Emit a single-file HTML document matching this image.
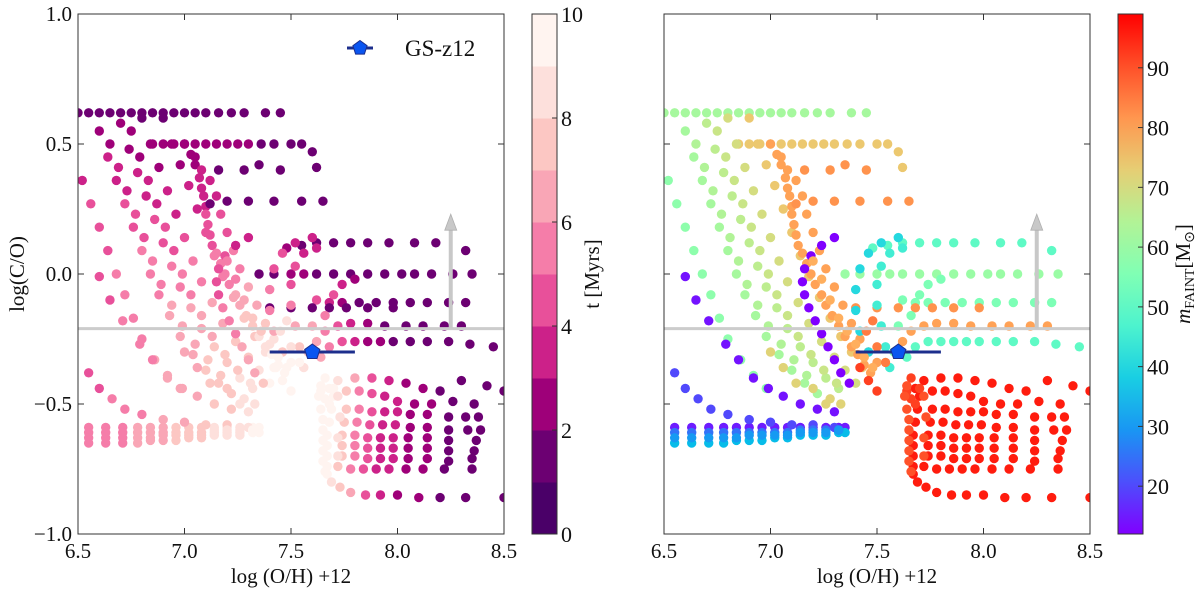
<!DOCTYPE html>
<html><head><meta charset="utf-8">
<style>
html,body{margin:0;padding:0;background:#fff;}
svg{display:block;font-family:"Liberation Serif",serif;}
</style></head>
<body>
<svg id="chart" width="1200" height="589" viewBox="0 0 1200 589" xmlns="http://www.w3.org/2000/svg">
<g id="left"></g>
<g id="right"></g>
</svg>
<script>
// ---- data ----
const xTicks = [6.5, 7.0, 7.5, 8.0, 8.5];
const xTickLabels = ["6.5", "7.0", "7.5", "8.0", "8.5"];
const yTicks = [1.0, 0.5, 0.0, -0.5, -1.0];
const yTickLabels = ["1.0", "0.5", "0.0", "\u22120.5", "\u22121.0"];
const tTicks = [0, 2, 4, 6, 8, 10];
const mTicks = [20, 30, 40, 50, 60, 70, 80, 90];
const tBandColors = ["#4a0068","#6c0072","#9e0079","#cc2189","#e8509a","#f57da9","#f9a6b6","#fcc7c3","#fde0dc","#fff4f0"];
const obsX = [7.6];
const obsY = [-0.3];
const obsXErr = [0.2];
const cutY = [-0.21];
const limitX = [8.25];
const limitTop = [0.23];

// tracks: each point [logOH, logCO, t]
const trackMass = [62,74,58,62,66,70,74,80,80,82,
  50,60,55,82,80,50,45,40,
  96,96,96,96,96,96,96,96,96,
  15,35,20,12,14,92,55,85,
  68,64,25,30,90,72,78];
const tracks = [
 [[6.5,0.62,1.5],[6.55,0.62,1.5],[6.6,0.62,1.5],[6.65,0.62,1.5],[6.7,0.62,1.5],[6.75,0.62,1.5],[6.8,0.62,1.5],[6.85,0.62,1.5],[6.9,0.62,1.5],[6.95,0.62,1.5],[7.0,0.62,1.5],[7.05,0.62,1.5],[7.1,0.62,1.5],[7.16,0.62,1.5],[7.22,0.62,1.5],[7.28,0.62,1.5],[7.38,0.62,1.5],[7.45,0.62,1.5]],
 [[6.85,0.5,2],[6.9,0.5,2],[6.95,0.5,2],[7.0,0.5,2],[7.05,0.5,2],[7.1,0.5,2],[7.15,0.5,2],[7.2,0.5,2],[7.25,0.5,2],[7.3,0.5,2],[7.36,0.5,1.5],[7.42,0.5,1.5],[7.5,0.5,1.5],[7.55,0.5,1.5],[7.6,0.47,1.5],[7.62,0.41,1.5]],
 [[6.52,0.36,3],[6.56,0.27,4],[6.6,0.18,4],[6.64,0.09,4.5],[6.68,0.0,5],[6.72,-0.08,5],[6.76,-0.17,5.5],[6.8,-0.25,5.5],[6.86,-0.33,6],[6.92,-0.39,6],[6.98,-0.44,6.5]],
 [[6.6,0.55,2],[6.64,0.45,3],[6.68,0.36,3.5],[6.72,0.27,4],[6.76,0.18,4.5],[6.8,0.09,5],[6.84,0.0,5],[6.88,-0.08,5.5],[6.93,-0.16,6],[6.98,-0.24,6],[7.04,-0.31,6.5],[7.1,-0.37,7],[7.16,-0.42,7],[7.22,-0.46,7.5]],
 [[6.7,0.58,2],[6.74,0.48,2.5],[6.78,0.39,3],[6.82,0.3,3.5],[6.86,0.21,4],[6.9,0.12,4.5],[6.94,0.03,5],[6.98,-0.05,5.5],[7.03,-0.13,6],[7.08,-0.21,6.5],[7.14,-0.28,7],[7.2,-0.34,7.5],[7.26,-0.4,8],[7.32,-0.44,8.5]],
 [[6.8,0.6,1.5],[6.84,0.5,2],[6.88,0.41,2.5],[6.92,0.32,3],[6.96,0.23,3.5],[7.0,0.14,4],[7.04,0.05,5],[7.08,-0.03,5.5],[7.13,-0.11,6],[7.18,-0.19,6.5],[7.24,-0.26,7],[7.3,-0.32,7.5],[7.35,-0.37,8],[7.4,-0.42,9]],
 [[6.9,0.6,1.5],[6.94,0.5,2],[6.98,0.42,2.5],[7.02,0.34,3],[7.06,0.25,3.5],[7.1,0.16,4],[7.14,0.07,5],[7.18,-0.01,5.5],[7.23,-0.09,6],[7.28,-0.17,7],[7.33,-0.24,7.5],[7.38,-0.3,8.5],[7.43,-0.36,9]],
 [[7.0,0.5,2],[7.03,0.46,2.5],[7.05,0.42,2.5],[7.07,0.37,3],[7.08,0.33,3],[7.09,0.3,3.5],[7.1,0.26,3.5],[7.1,0.23,4],[7.11,0.19,4],[7.12,0.15,4.5],[7.13,0.11,4.5],[7.15,0.08,5],[7.17,0.04,5],[7.19,0.0,5.5],[7.21,-0.04,5.5],[7.24,-0.08,6],[7.26,-0.12,6.5],[7.29,-0.16,7],[7.32,-0.2,7.5],[7.35,-0.24,8],[7.38,-0.28,8.5],[7.41,-0.31,9],[7.44,-0.35,9.5],[7.47,-0.38,9.5]],
 [[7.05,0.45,2.5],[7.08,0.4,3],[7.12,0.36,3],[7.15,0.3,3.5],[7.17,0.23,4],[7.2,0.16,4.5],[7.23,0.09,5],[7.26,0.02,5.5],[7.3,-0.05,6],[7.34,-0.12,6.5],[7.38,-0.19,7.5],[7.42,-0.25,8.5],[7.46,-0.3,9],[7.5,-0.34,9.5]],
 [[7.12,0.27,1.5],[7.2,0.28,1.5],[7.3,0.28,1.5],[7.42,0.28,1.5],[7.55,0.28,1.5],[7.65,0.28,1.5],[7.16,0.4,1.5],[7.28,0.4,1.5],[7.35,0.42,1.5],[7.45,0.4,1.5]],
 [[7.48,0.1,2],[7.55,0.11,1.5],[7.62,0.12,1.5],[7.7,0.12,1.5],[7.78,0.12,1.5],[7.86,0.12,1.5],[7.96,0.12,1.5],[8.08,0.12,1.5],[8.18,0.12,1.5],[8.32,0.09,1.2]],
 [[7.35,0.0,1.5],[7.42,0.0,1.5],[7.5,0.0,2],[7.56,0.0,2],[7.62,0.0,1.5],[7.7,0.0,1.5],[7.78,0.0,1.5],[7.86,0.0,1.5],[7.94,0.0,1.5],[8.02,0.0,1.5],[8.08,0.0,1.5],[8.16,0.0,1.5],[8.26,0.0,1.2],[8.35,0.0,1.2]],
 [[7.62,-0.1,4],[7.68,-0.11,3],[7.74,-0.11,2],[7.82,-0.11,1.5],[7.9,-0.11,1.5],[7.98,-0.11,1.5],[8.06,-0.11,1.5],[8.14,-0.11,1.5],[8.24,-0.11,1.2],[8.32,-0.11,1.2]],
 [[7.4,-0.13,1.5],[7.5,-0.13,1.5],[7.6,-0.13,1.5],[7.68,-0.13,1.5],[7.76,-0.13,1.5],[7.86,-0.13,1.5],[7.98,-0.13,1.5]],
 [[7.62,-0.26,6],[7.66,-0.22,5],[7.72,-0.2,4],[7.78,-0.19,3],[7.86,-0.19,2],[7.94,-0.2,1.5],[8.04,-0.2,1.5],[8.12,-0.2,1.5],[8.22,-0.2,1.2],[8.3,-0.2,1.2]],
 [[7.64,-0.32,6],[7.68,-0.28,5],[7.74,-0.26,4],[7.8,-0.26,3],[7.86,-0.26,2.5],[7.92,-0.26,2],[7.98,-0.26,1.5],[8.06,-0.26,1.5],[8.14,-0.26,1.5],[8.24,-0.26,1.2],[8.34,-0.27,1.2],[8.45,-0.28,1]],
 [[7.56,-0.36,8],[7.54,-0.28,7],[7.52,-0.2,6],[7.5,-0.12,5],[7.5,-0.04,4.5],[7.52,0.03,4],[7.56,0.08,3.5],[7.62,0.1,3]],
 [[7.46,-0.3,7],[7.42,-0.22,6],[7.4,-0.14,5.5],[7.4,-0.06,5],[7.42,0.02,4.5],[7.46,0.08,4],[7.52,0.12,3.5],[7.6,0.14,3]],
 [[7.68,-0.44,9],[7.72,-0.41,8],[7.8,-0.4,6],[7.88,-0.4,4],[7.96,-0.41,3],[8.04,-0.42,2.5],[8.12,-0.44,2],[8.2,-0.45,1.5],[8.3,-0.41,1],[8.42,-0.43,1],[8.5,-0.45,1]],
 [[7.7,-0.47,9],[7.76,-0.45,7],[7.82,-0.45,5],[7.88,-0.46,4],[7.94,-0.47,3.5],[8.0,-0.49,3],[8.08,-0.5,2.5],[8.16,-0.5,2],[8.26,-0.49,1.5],[8.36,-0.5,1],[8.38,-0.55,1]],
 [[7.69,-0.52,9.5],[7.76,-0.52,7],[7.82,-0.52,5],[7.88,-0.53,4],[7.94,-0.53,3.5],[8.0,-0.53,3],[8.06,-0.54,2.5],[8.14,-0.54,2],[8.24,-0.55,1.5],[8.32,-0.55,1.2],[8.39,-0.6,1]],
 [[7.68,-0.57,9.5],[7.75,-0.57,7],[7.81,-0.57,5],[7.87,-0.58,4],[7.93,-0.58,3.5],[7.99,-0.58,3],[8.06,-0.59,2.5],[8.14,-0.59,2],[8.24,-0.6,1.5],[8.33,-0.6,1.2]],
 [[7.67,-0.62,9.5],[7.74,-0.62,7],[7.8,-0.62,5],[7.86,-0.63,4],[7.92,-0.63,3.5],[7.98,-0.63,3],[8.05,-0.63,2.5],[8.14,-0.63,2],[8.24,-0.64,1.5],[8.37,-0.64,1]],
 [[7.67,-0.66,9.5],[7.74,-0.66,7],[7.8,-0.66,5],[7.86,-0.67,4],[7.92,-0.67,3.5],[7.98,-0.67,3],[8.05,-0.67,2.5],[8.14,-0.67,2],[8.24,-0.68,1.5],[8.36,-0.68,1]],
 [[7.67,-0.7,9.5],[7.74,-0.7,7],[7.8,-0.7,5],[7.86,-0.71,4],[7.92,-0.71,3.5],[7.98,-0.71,3],[8.05,-0.71,2.5],[8.14,-0.71,2],[8.24,-0.72,1.5],[8.35,-0.71,1]],
 [[7.67,-0.74,9.5],[7.72,-0.74,7],[7.78,-0.75,5],[7.84,-0.75,4],[7.9,-0.75,3.5],[7.96,-0.75,3],[8.04,-0.75,2.5],[8.12,-0.75,2],[8.22,-0.75,1.5],[8.35,-0.75,1]],
 [[7.67,-0.77,9],[7.69,-0.8,8],[7.73,-0.82,7],[7.78,-0.84,6],[7.85,-0.85,4],[7.92,-0.85,3],[8.0,-0.85,2.5],[8.1,-0.86,2],[8.2,-0.86,1.5],[8.32,-0.86,1],[8.5,-0.86,1]],
 [[6.55,-0.59,5],[6.63,-0.59,5],[6.71,-0.59,5.5],[6.78,-0.59,6],[6.84,-0.59,6],[6.9,-0.59,6.5],[6.96,-0.59,7],[7.02,-0.59,7],[7.08,-0.59,7.5],[7.14,-0.59,8],[7.2,-0.59,8],[7.26,-0.59,8.5],[7.32,-0.59,9],[7.35,-0.59,9]],
 [[6.55,-0.65,5],[6.63,-0.65,5],[6.71,-0.65,5.5],[6.78,-0.65,6],[6.84,-0.64,6],[6.9,-0.64,6.5],[6.96,-0.64,7],[7.02,-0.63,7],[7.08,-0.63,7.5],[7.14,-0.62,8],[7.2,-0.62,8],[7.26,-0.62,8.5],[7.32,-0.61,9],[7.35,-0.61,9]],
 [[6.55,-0.38,4],[6.6,-0.44,4.5],[6.66,-0.48,5],[6.72,-0.52,5],[6.8,-0.54,5.5],[6.9,-0.56,6],[7.0,-0.57,6.5],[7.1,-0.58,7],[7.2,-0.58,7.5],[7.3,-0.59,8.5]],
 [[7.3,0.14,3],[7.24,0.11,3.5],[7.19,0.07,4],[7.16,0.02,4],[7.15,-0.03,4.5],[7.16,-0.08,4.5],[7.18,-0.13,5],[7.21,-0.18,5],[7.24,-0.23,5.5],[7.27,-0.28,6],[7.3,-0.33,6],[7.33,-0.38,6.5],[7.37,-0.42,7]],
 [[6.6,-0.01,4],[6.65,-0.1,4.5],[6.71,-0.18,5],[6.79,-0.27,5],[6.85,-0.33,5.5],[6.92,-0.4,6],[6.99,-0.44,6],[7.06,-0.47,6.5],[7.14,-0.5,7],[7.22,-0.52,7.5],[7.3,-0.53,8]],
 [[7.42,-0.36,9.5],[7.46,-0.41,9.8],[7.5,-0.45,9.8],[7.66,-0.4,9.5],[7.7,-0.44,9.5],[7.66,-0.48,9.8],[7.64,-0.45,9.5],[7.68,-0.5,9.8]],
 [[7.7,-0.08,4],[7.74,-0.04,3],[7.8,-0.02,2],[7.66,-0.16,5],[7.6,-0.2,6],[7.58,-0.3,7]],
 [[7.45,-0.22,8],[7.5,-0.28,8.5],[7.54,-0.34,9],[7.48,-0.18,8]],
 [[6.75,0.55,2],[6.79,0.45,2.5],[6.83,0.36,3],[6.87,0.27,3.5],[6.91,0.18,4],[6.95,0.09,4.5],[6.99,0.0,5],[7.03,-0.08,5.5],[7.08,-0.16,6],[7.13,-0.24,6.5],[7.19,-0.31,7],[7.25,-0.37,7.5],[7.31,-0.42,8]],
 [[6.65,0.5,2.5],[6.69,0.41,3],[6.73,0.32,3.5],[6.77,0.23,4],[6.81,0.14,4.5],[6.85,0.05,5],[6.89,-0.04,5.5],[6.94,-0.12,6],[6.99,-0.2,6],[7.05,-0.27,6.5],[7.11,-0.33,7],[7.17,-0.39,7.5]],
 [[6.55,-0.61,5],[6.63,-0.61,5],[6.71,-0.61,5.5],[6.78,-0.61,6],[6.84,-0.61,6],[6.9,-0.61,6.5],[6.96,-0.61,7],[7.02,-0.61,7],[7.08,-0.61,7.5],[7.14,-0.6,8],[7.2,-0.6,8],[7.26,-0.6,8.5],[7.32,-0.6,9]],
 [[6.55,-0.63,5],[6.63,-0.63,5],[6.71,-0.63,5.5],[6.78,-0.63,6],[6.84,-0.63,6],[6.9,-0.62,6.5],[6.96,-0.62,7],[7.02,-0.62,7],[7.08,-0.62,7.5],[7.14,-0.61,8],[7.2,-0.61,8],[7.26,-0.61,8.5],[7.32,-0.6,9]],
 [[7.64,-0.43,9.8],[7.63,-0.47,9.8],[7.64,-0.52,9.8],[7.65,-0.56,9.8],[7.65,-0.6,9.8],[7.65,-0.64,9.8],[7.65,-0.68,9.8],[7.65,-0.72,9.8],[7.66,-0.76,9.5],[7.72,-0.47,8],[7.73,-0.55,8],[7.72,-0.63,8],[7.72,-0.7,8]],
 [[7.0,-0.3,6],[7.06,-0.36,6.5],[7.12,-0.42,7],[7.2,-0.44,7.5],[7.28,-0.48,8],[7.26,-0.5,8],[7.33,-0.5,8.5]],
 [[7.2,0.05,5],[7.24,-0.02,5.5],[7.28,-0.1,6],[7.32,-0.17,7],[7.36,-0.22,7.5],[7.4,-0.27,8],[7.44,-0.32,9],[7.48,-0.36,9.5]]
];

// ---- geometry ----
const PY0 = 14, PH = 520, PW = 426;
const panels = [
  {g:"left",  x0:78,  cbx:532,  mode:"t"},
  {g:"right", x0:664, cbx:1118, mode:"m"}
];
const NS = "http://www.w3.org/2000/svg";
function mk(parent, tag, attrs){const e=document.createElementNS(NS,tag);for(const k in attrs)e.setAttribute(k,attrs[k]);parent.appendChild(e);return e;}
function xScale(p,v){return p.x0 + (v-6.5)/2.0*PW;}
function yScale(v){return PY0 + (1.0-v)/2.0*PH;}
function tColor(t){let i=Math.floor(t);if(i<0)i=0;if(i>9)i=9;return tBandColors[i];}
const M_MIN=12, M_MAX=99;
function mColor(m){let x=(m-M_MIN)/(M_MAX-M_MIN);x=Math.max(0,Math.min(1,x));
  const r=Math.min(1,Math.abs(2*x-0.5)), g=Math.sin(Math.PI*x), b=Math.cos(Math.PI*x/2);
  return "rgb("+Math.round(r*255)+","+Math.round(g*255)+","+Math.round(b*255)+")";}

panels.forEach((p,pi)=>{
  const g=document.getElementById(p.g);
  const clip=mk(g,"clipPath",{id:"clip"+pi});
  mk(clip,"rect",{x:p.x0,y:PY0,width:PW,height:PH});
  const dots=mk(g,"g",{"clip-path":"url(#clip"+pi+")"});
  
  
  tracks.forEach((tr,ti)=>{
    tr.forEach(pt=>{
      const c=mk(dots,"circle",{cx:xScale(p,pt[0]),cy:yScale(pt[1]),r:4.7,
        fill: p.mode==="t"?tColor(pt[2]):mColor(trackMass[ti])});
      
      
    });
  });
  const cl=mk(g,"line",{x1:p.x0,x2:p.x0+PW,y1:yScale(cutY[0]),y2:yScale(cutY[0]),stroke:"#cccccc","stroke-width":3});
  
  
  const ax=xScale(p,limitX[0]);
  const al=mk(g,"line",{x1:ax,x2:ax,y1:yScale(cutY[0]),y2:yScale(limitTop[0])+10,stroke:"#c8c8c8","stroke-width":4});
  
  
  const ah=mk(g,"polygon",{points:(ax-6)+","+(yScale(limitTop[0])+16)+" "+(ax+6)+","+(yScale(limitTop[0])+16)+" "+ax+","+yScale(limitTop[0]),fill:"#c8c8c8",stroke:"#b0b0b0","stroke-width":0.8});
  
  
  const ox=xScale(p,obsX[0]), oy=yScale(obsY[0]);
  const eb=mk(g,"line",{x1:xScale(p,obsX[0]-obsXErr[0]),x2:xScale(p,obsX[0]+obsXErr[0]),y1:oy,y2:oy,stroke:"#1c2e8c","stroke-width":3});
  
  
  const pent=(cx,cy,r)=>{let s="";for(let k=0;k<5;k++){const a=-Math.PI/2+k*2*Math.PI/5;s+=(cx+r*Math.cos(a)).toFixed(1)+","+(cy+r*Math.sin(a)).toFixed(1)+" ";}return s;};
  const om=mk(g,"polygon",{points:pent(ox,oy,8),fill:"#0a55f0",stroke:"#1c2e8c","stroke-width":1});
  
  
  const fr=mk(g,"rect",{x:p.x0,y:PY0,width:PW,height:PH,fill:"none",stroke:"#333","stroke-width":1});
  
  
  xTicks.forEach((v,i)=>{
    const X=xScale(p,v);
    mk(g,"line",{x1:X,x2:X,y1:PY0+PH,y2:PY0+PH-6,stroke:"#333"});
    mk(g,"line",{x1:X,x2:X,y1:PY0,y2:PY0+6,stroke:"#333"});
    const t=mk(g,"text",{x:X,y:558,"font-size":21,"text-anchor":"middle",fill:"#111"});
    t.textContent=xTickLabels[i];
    
    
  });
  yTicks.forEach((v,i)=>{
    const Y=yScale(v);
    mk(g,"line",{x1:p.x0,x2:p.x0+6,y1:Y,y2:Y,stroke:"#333"});
    mk(g,"line",{x1:p.x0+PW,x2:p.x0+PW-6,y1:Y,y2:Y,stroke:"#333"});
    if(p.mode==="t"){
      const t=mk(g,"text",{x:p.x0-6,y:Y+7,"font-size":21,"text-anchor":"end",fill:"#111"});
      t.textContent=yTickLabels[i];
      
      
    }
  });
  const xt=mk(g,"text",{x:p.x0+PW/2,y:583,"font-size":21,"text-anchor":"middle",fill:"#111"});
  xt.textContent="log (O/H) +12";
  
  
  const cb=mk(g,"g",{});
  
  
  const CW=25;
  if(p.mode==="t"){
    tBandColors.forEach((c,i)=>{
      mk(cb,"rect",{x:p.cbx,y:PY0+PH-(i+1)*PH/10,width:CW,height:PH/10+0.5,fill:c});
    });
    tTicks.forEach(v=>{
      const Y=PY0+PH-v/10*PH;
      mk(cb,"line",{x1:p.cbx+CW-5,x2:p.cbx+CW,y1:Y,y2:Y,stroke:"#333"});
      const t=mk(cb,"text",{x:p.cbx+CW+4,y:Y+8,"font-size":22,fill:"#111"});
      t.textContent=String(v);
      
      
    });
    const lab=mk(cb,"text",{transform:"translate(599,274) rotate(-90)","font-size":21,"text-anchor":"middle",fill:"#111"});
    lab.textContent="t [Myrs]";
    
    
  } else {
    const defs=mk(g,"defs",{});
    const lg=mk(defs,"linearGradient",{id:"rainbow",x1:0,y1:1,x2:0,y2:0});
    for(let k=0;k<=10;k++){mk(lg,"stop",{offset:k/10,"stop-color":mColor(M_MIN+k/10*(M_MAX-M_MIN))});}
    mk(cb,"rect",{x:p.cbx,y:PY0,width:CW,height:PH,fill:"url(#rainbow)"});
    mTicks.forEach(v=>{
      const Y=PY0+PH-(v-M_MIN)/(M_MAX-M_MIN)*PH;
      mk(cb,"line",{x1:p.cbx+CW-5,x2:p.cbx+CW,y1:Y,y2:Y,stroke:"#333"});
      const t=mk(cb,"text",{x:p.cbx+CW+4,y:Y+8,"font-size":22,fill:"#111"});
      t.textContent=String(v);
      
      
    });
    const lab=mk(cb,"text",{transform:"translate(1190,274) rotate(-90)","font-size":21,"text-anchor":"middle",fill:"#111"});
    lab.innerHTML='<tspan font-style="italic">m</tspan><tspan font-size="14" dy="4">FAINT</tspan><tspan dy="-4">[M</tspan><tspan font-size="14" dy="4">\u2299</tspan><tspan dy="-4">]</tspan>';
    
    
  }
  mk(cb,"rect",{x:p.cbx,y:PY0,width:CW,height:PH,fill:"none",stroke:"#333"});
});
const yt=mk(document.getElementById("chart"),"text",{transform:"translate(24,274) rotate(-90)","font-size":21,"text-anchor":"middle",fill:"#111"});
yt.textContent="log(C/O)";


const lgG=mk(document.getElementById("left"),"g",{});


mk(lgG,"line",{x1:347,x2:373,y1:48,y2:48,stroke:"#1c2e8c","stroke-width":3});
(function(){let s="";for(let k=0;k<5;k++){const a=-Math.PI/2+k*2*Math.PI/5;s+=(360+7.5*Math.cos(a)).toFixed(1)+","+(48+7.5*Math.sin(a)).toFixed(1)+" ";}
mk(lgG,"polygon",{points:s,fill:"#0a55f0",stroke:"#1c2e8c"});})();
const lt=mk(lgG,"text",{x:405,y:56,"font-size":23,fill:"#111"});
lt.textContent="GS-z12";
</script>
</body></html>
